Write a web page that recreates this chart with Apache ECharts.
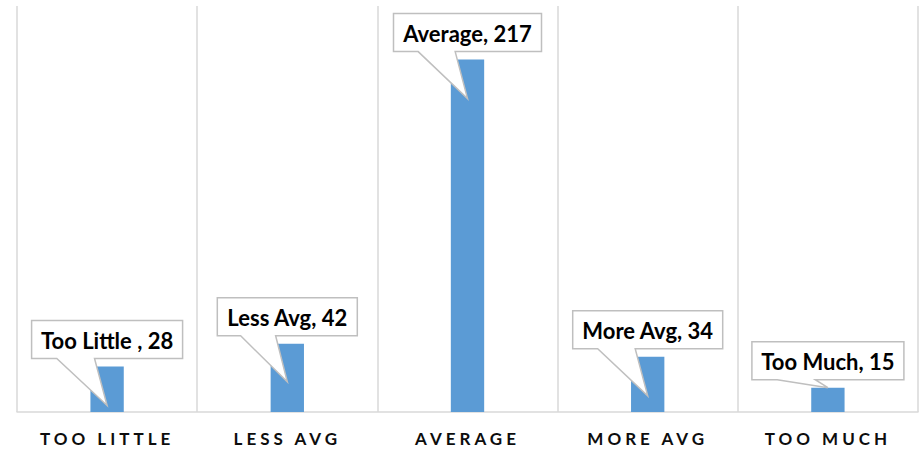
<!DOCTYPE html>
<html>
<head>
<meta charset="utf-8">
<script src="https://cdn.jsdelivr.net/npm/echarts@6/dist/echarts.min.js"></script>
<style>
html,body{margin:0;padding:0;background:#fff;}
#chart{width:921px;height:452px;}
#chart svg text[style*="sans-serif"]{letter-spacing:4px;}
</style>
</head>
<body>
<div id="chart"></div>
<script>
const categories = ['TOO LITTLE', 'LESS AVG', 'AVERAGE', 'MORE AVG', 'TOO MUCH'];
const labelNames = ['Too Little ', 'Less Avg', 'Average', 'More Avg', 'Too Much'];
const values = [28, 42, 217, 34, 15];

// callout styling (pixels)
const tipDrop = [39, 38, 39, 39, 0];
const boxGap = 8, boxH = 38, padX = 9.5;
const calloutFont = 'bold 22px Lato';

const mctx = document.createElement('canvas').getContext('2d');
function textW(t){ mctx.font = calloutFont; return mctx.measureText(t).width; }

const chart = echarts.init(document.getElementById('chart'), null, {renderer:'svg'});
chart.setOption({
  animation:false,
  grid:{left:17, right:3, top:6, bottom:40},
  xAxis:{
    type:'category', data:categories,
    axisTick:{show:false},
    axisLine:{lineStyle:{color:'#d9d9d9', width:1.5}},
    splitLine:{show:true, lineStyle:{color:'#d9d9d9', width:1.5}},
    axisLabel:{color:'#0d0d0d', fontWeight:'bold', fontSize:17, fontFamily:'Lato, sans-serif', margin:18}
  },
  yAxis:{type:'value', min:0, max:250, show:false, splitLine:{show:false}},
  series:[
    {type:'bar', data:values, barWidth:'18.5%', itemStyle:{color:'#5b9bd5'}},
    {type:'custom', data:values, clip:false, z:5,
     renderItem:function(params, api){
       const i = params.dataIndex;
       const v = api.value(1);
       const p = api.coord([i, v]);
       const base = api.coord([i, 0]);
       const txt = labelNames[i] + ', ' + v;
       const w = Math.round(textW(txt) + padX*2);
       const cx = p[0];
       const B = p[1] - boxGap, T = B - boxH;
       const L = cx - w/2, R = cx + w/2;
       const tipY = Math.min(p[1] + tipDrop[i], base[1]);
       const pts = [[L,T],[R,T],[R,B],[L+w*5/12,B],[cx,tipY],[L+w*2/12,B],[L,B]];
       return {type:'group', children:[
         {type:'polygon', shape:{points:pts}, style:{fill:'#fff', stroke:'#bfbfbf', lineWidth:1.5}},
         {type:'text', style:{text:txt, x:cx, y:(T+B)/2 + 1, align:'center', verticalAlign:'middle',
           font:calloutFont, fill:'#000'}}
       ]};
     }}
  ]
});
</script>
</body>
</html>
